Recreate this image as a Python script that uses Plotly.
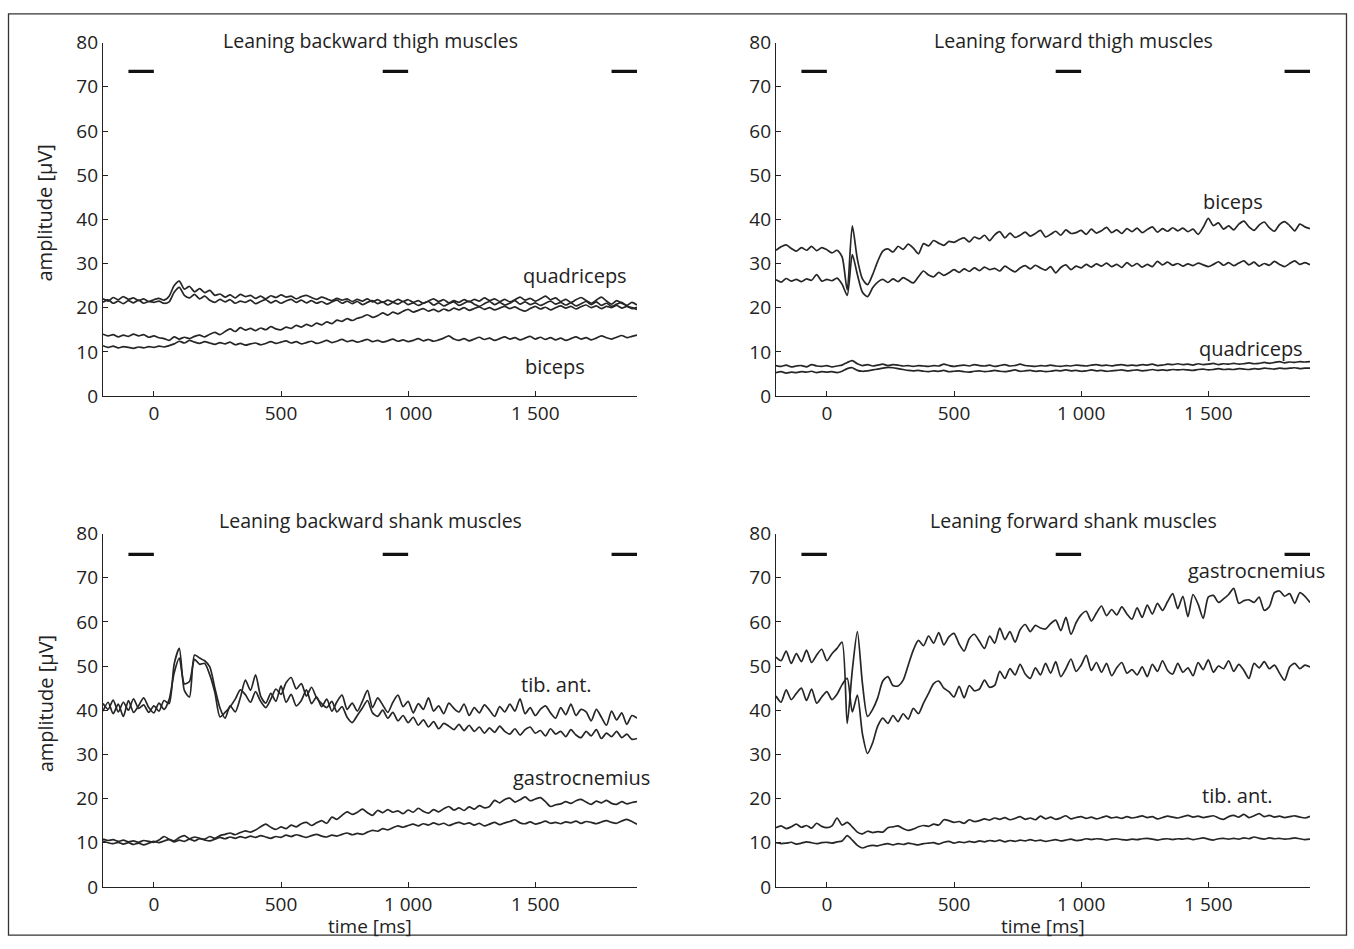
import plotly.graph_objects as go

# Time base: 20 ms steps from -200 ms to 1900 ms
T_START, T_STEP = -200, 20

# ---- Leaning backward, thigh muscles ----
lb_quad_1 = [
    22.0, 21.5, 22.3, 21.8, 22.5, 21.9, 22.2, 21.6, 22.0, 21.4,
    21.8, 22.1, 21.7, 22.6, 25.0, 26.0, 24.2, 24.8, 23.6, 24.3,
    23.4, 23.9, 22.8, 23.1, 22.4, 22.9, 22.2, 23.0, 22.5, 22.8,
    22.1, 22.6, 22.0, 22.7, 22.3, 22.9, 22.4, 22.6, 22.0, 22.5,
    22.8, 22.3, 21.9, 22.4, 22.0, 21.6, 22.1, 21.7, 22.0, 21.4,
    21.9, 21.5, 22.0, 21.3, 21.8, 21.2, 21.7, 21.3, 21.9, 21.4,
    21.8, 21.2, 21.6, 21.0, 21.5, 22.0, 21.4, 21.8, 21.1, 21.6,
    21.2, 21.8, 21.3, 21.9, 21.5, 22.2, 21.6, 22.0, 21.4, 21.9,
    21.3, 21.8, 22.4, 21.7, 22.1, 21.5, 22.0, 22.6, 21.8, 22.2,
    21.4, 21.9, 21.2, 21.8, 22.3, 21.6, 21.0, 21.7, 22.4, 21.5,
    20.8, 21.6, 21.0, 20.5, 21.2, 20.6,
]
lb_quad_2 = [
    21.2, 21.8, 21.0, 21.5, 20.9, 21.6, 21.1, 21.7, 21.0, 21.4,
    21.2, 21.5, 21.0, 21.3, 23.5, 24.6, 22.8, 22.2, 23.0, 22.0,
    22.6, 21.7, 21.2, 21.9, 21.3, 21.8, 21.0, 21.5, 21.2, 21.7,
    20.9, 21.4, 21.8, 21.1, 21.6, 21.0, 21.5, 21.9, 21.2, 21.7,
    21.1, 21.6, 21.0, 21.4, 20.8, 21.3, 21.7, 21.0, 21.5, 20.9,
    21.4, 20.7, 21.2, 21.6, 20.9, 21.3, 20.6, 21.2, 20.8, 21.4,
    20.7, 21.1, 20.5, 21.0, 21.4, 20.6, 21.1, 20.4, 20.9, 21.3,
    20.5, 21.0, 21.5, 20.8, 20.3, 20.9, 21.4, 20.7, 21.2, 20.6,
    21.0, 21.6, 20.8, 21.3, 20.7, 21.1, 20.5, 21.0, 21.5, 20.8,
    21.2, 20.6, 21.1, 20.4, 20.9, 21.4, 20.7, 21.3, 20.5, 21.0,
    20.3, 20.8, 21.2, 20.4, 20.0, 19.6,
]
lb_biceps_1 = [
    14.0, 13.6, 13.9, 13.4, 13.8, 13.5, 14.0, 13.6, 13.9, 13.3,
    13.6, 13.2, 13.0, 12.6, 13.4, 12.9, 13.3, 13.0, 13.5, 13.8,
    13.4, 14.0, 14.4, 13.9, 14.6, 15.2, 14.6, 15.5, 14.9, 15.3,
    14.8, 15.4, 15.0, 15.7, 15.2, 15.0, 15.6, 15.3, 16.0, 15.6,
    16.2, 15.8, 16.5, 16.1, 16.8, 16.4, 17.2, 16.9, 17.5, 17.1,
    17.6, 17.9, 18.4, 17.8, 18.2, 18.8, 18.3, 19.0, 18.6, 19.2,
    19.6, 19.0, 19.4, 19.8, 19.2, 19.6, 19.1, 19.7, 19.3, 19.9,
    19.5, 20.0, 19.4, 19.8, 20.2, 19.6, 20.0, 19.5, 19.9, 20.3,
    19.8, 20.2, 19.6, 19.2, 19.8, 20.3, 19.7, 20.1, 19.5, 20.0,
    20.4, 19.9, 20.3, 19.7, 20.2, 20.6, 20.0, 20.4, 19.8, 20.3,
    20.0, 20.5, 19.9, 20.3, 19.8, 20.1,
]
lb_biceps_2 = [
    11.4, 11.0, 11.3, 10.9, 11.2, 11.0, 10.8, 11.1, 10.9, 11.2,
    11.0, 11.3, 11.1, 11.4, 11.8, 12.4, 12.0, 12.6, 12.2, 11.9,
    12.3, 12.0, 11.7, 12.1, 11.8, 12.2, 11.6, 11.9, 11.5, 11.8,
    12.0, 11.6, 11.9, 12.3, 11.9, 12.2, 12.5, 12.0, 12.3, 11.8,
    12.1, 12.4, 11.9, 12.2, 12.6, 12.1, 12.4, 12.8, 12.3, 12.6,
    12.2, 12.5, 12.8, 12.3, 12.6, 12.2, 12.5, 12.9, 12.4, 12.7,
    12.3, 12.6, 13.0, 12.5, 12.8, 12.4, 12.7, 13.1, 13.6, 12.9,
    12.6, 13.0, 12.5, 12.9, 13.3, 12.8, 13.1, 12.6, 13.0, 13.4,
    12.9, 13.2, 12.7, 13.1, 13.5, 12.9, 13.3, 12.8, 13.2, 12.7,
    13.1, 12.6, 13.0, 13.4, 12.9, 13.2, 12.7, 13.1, 13.6, 13.2,
    12.9, 13.3, 13.7, 13.2, 13.5, 13.8,
]

# ---- Leaning forward, thigh muscles ----
lf_biceps_1 = [
    33.0, 33.8, 34.2, 33.4, 32.8, 33.6, 33.0, 33.9, 32.9, 33.6,
    33.1, 32.4, 33.0, 31.5, 24.0, 38.5, 31.0, 26.5, 25.2, 27.5,
    30.5, 32.8, 33.3, 32.6, 33.9, 33.2, 34.4, 33.5, 32.2, 34.5,
    34.0, 35.2, 34.6, 34.1, 35.0, 34.8, 35.4, 35.8, 34.9, 36.0,
    35.6, 36.4, 35.2, 36.5, 37.2, 35.8, 36.9, 35.9, 36.4, 37.1,
    36.2, 36.8, 37.5, 36.0, 36.6, 37.3, 36.4, 37.6, 36.8, 37.0,
    37.5, 36.6, 37.8, 36.9, 37.4, 38.2, 37.0, 37.6, 36.8, 37.9,
    37.2, 38.0, 37.0, 37.7, 38.3, 37.1, 37.9, 37.3, 38.1, 37.4,
    38.0, 37.2, 37.8, 36.6, 38.2, 40.2, 38.6, 39.2, 37.8, 38.5,
    37.6, 38.9, 39.6, 38.3, 37.5, 38.7, 39.4, 38.1, 37.3, 38.8,
    39.5, 38.6, 37.4, 38.9, 38.3, 37.9,
]
lf_biceps_2 = [
    26.3, 25.8, 26.6, 26.0, 26.4, 25.9, 26.5, 26.2, 27.5, 26.0,
    26.4, 26.1, 26.7, 25.3, 22.8, 32.0, 27.5, 23.5, 22.5, 24.5,
    25.8, 26.4, 25.7, 26.5, 25.9, 26.8, 26.2, 25.6, 27.0, 28.3,
    27.4, 27.0, 28.0, 27.3, 27.9, 28.6, 28.0, 28.8, 28.2, 29.0,
    28.4, 29.2, 28.6, 28.9, 28.3, 29.4, 28.7, 28.1, 29.0, 29.5,
    28.8, 29.6, 29.0, 28.5, 29.3, 27.9, 29.1, 29.7, 28.6, 29.4,
    29.0, 29.8, 29.2, 29.9, 29.4, 30.1, 29.3, 29.8, 29.1, 30.2,
    29.4, 30.0, 29.2, 29.8, 29.3, 30.5, 29.7, 30.3, 29.6, 30.0,
    29.4, 29.9, 29.5, 30.1, 29.7, 29.3, 29.8, 30.4, 29.6, 30.2,
    29.5, 30.1, 30.6, 29.7, 30.3, 29.4, 30.0, 29.6, 30.5, 29.8,
    29.3, 30.0, 30.6, 29.8, 30.2, 29.7,
]
lf_quad_1 = [
    6.9, 6.7, 7.0, 6.6, 6.8, 6.9, 6.6, 7.1, 6.8, 6.7,
    6.9, 6.6, 6.8, 7.0, 7.6, 8.0, 7.3, 6.9, 7.1, 6.8,
    7.0, 7.2, 6.9, 7.1, 7.0, 6.8, 6.9, 6.7, 6.9, 6.8,
    6.7, 6.9, 6.8, 7.2, 6.9, 6.7, 6.9, 7.0, 6.8, 7.1,
    6.9, 6.8, 7.0, 6.7, 6.9, 7.1, 6.8, 6.9, 7.2, 6.9,
    6.8, 6.7, 6.9, 6.8, 7.0, 6.8, 6.7, 6.9, 6.8, 7.0,
    6.9, 6.8, 7.0, 7.1, 6.9, 7.0, 6.8, 7.0, 7.1, 6.9,
    7.0, 6.9, 7.1, 7.0, 7.2, 6.9, 7.0, 7.2, 7.1, 7.3,
    7.1, 7.2, 7.0, 7.3, 7.1, 7.2, 7.4, 7.1, 7.3, 7.2,
    7.4, 7.2, 7.3, 7.5, 7.3, 7.4, 7.6, 7.4, 7.6, 7.8,
    7.5, 7.7, 7.6, 7.8, 7.7, 7.8,
]
lf_quad_2 = [
    5.3, 5.5, 5.2, 5.4, 5.3, 5.5, 5.4, 5.6, 5.3, 5.5,
    5.4, 5.5, 5.3, 5.6, 6.2, 6.4, 5.8, 5.6, 5.7, 5.9,
    6.1, 6.3, 6.5, 6.4, 6.2, 6.0, 5.8, 5.7, 5.8, 5.6,
    5.5, 5.7, 5.6, 5.8, 5.5, 5.6, 5.7, 5.5, 5.4, 5.6,
    5.7, 5.5, 5.6, 5.8, 5.6, 5.5, 5.7, 5.9, 5.6, 5.7,
    5.8, 5.6, 5.7, 5.5, 5.6, 5.8, 5.7, 5.9, 5.7, 5.8,
    5.6, 5.7, 5.9, 5.7, 5.8, 5.6, 5.7, 5.8, 5.9, 5.7,
    5.8, 5.9, 5.7, 5.8, 6.0, 5.8, 5.9, 5.8, 6.0, 5.9,
    6.0, 5.9, 5.8, 6.0, 6.1, 5.9, 6.0, 6.2, 6.0, 6.1,
    6.0, 6.2, 6.1, 6.0, 6.2, 6.1, 6.3, 6.2, 6.1, 6.3,
    6.2, 6.3, 6.4, 6.2, 6.3, 6.3,
]

# ---- Leaning backward, shank muscles ----
lb_tib_1 = [
    41.5, 40.2, 42.3, 39.6, 41.8, 40.0, 42.6, 40.4, 41.2, 39.5,
    41.0, 39.8, 42.2, 41.5, 50.5, 54.0, 44.5, 43.0, 52.5, 51.8,
    51.2, 49.8, 45.0, 40.5, 38.2, 41.0, 39.6, 42.8, 46.8, 44.5,
    48.0, 43.2, 41.6, 43.8, 42.0, 45.5, 41.8, 43.6, 41.0, 42.2,
    44.6, 41.5, 43.0, 40.8, 42.5, 39.8, 41.9, 43.4, 40.2, 41.6,
    39.8, 42.0, 44.5, 40.6, 42.8, 41.2, 39.5, 41.8, 43.4, 40.8,
    42.0, 39.4, 41.5, 40.2, 42.8, 39.8, 41.0, 39.2, 41.6, 40.4,
    39.6, 41.4, 38.8, 40.6, 39.4, 41.2, 40.0, 38.6, 40.8, 39.6,
    41.4, 39.8, 42.6, 39.2, 40.6, 38.8, 40.2, 41.0, 39.4, 38.2,
    40.6, 39.0, 41.4, 38.8, 40.2, 39.6, 37.6, 40.2, 38.4, 36.6,
    39.8, 37.8, 39.4, 36.8, 38.8, 38.2,
]
lb_tib_2 = [
    39.8, 41.8, 39.2, 41.4, 38.6, 42.2, 39.5, 41.0, 42.8, 40.6,
    39.4, 41.6, 40.2, 42.4, 48.5, 51.8, 46.0, 46.5, 51.5, 50.4,
    50.6, 48.0, 44.0, 38.5, 39.5, 40.8, 42.5, 44.6, 43.5, 41.8,
    44.2, 42.0, 40.6, 42.5, 44.8, 43.6, 46.2, 47.4, 44.8, 46.0,
    43.2, 45.2, 42.8, 41.5, 40.6, 42.0, 39.6, 40.8, 38.4, 37.2,
    38.8, 40.5, 42.2, 39.4, 38.6, 40.0, 38.2, 39.5, 37.6, 38.8,
    37.2, 38.4, 36.6, 37.8, 36.2, 37.4, 35.8, 37.0, 36.4, 35.6,
    36.8, 35.4, 36.6, 35.2, 36.2, 34.8, 36.0, 35.0, 36.4, 35.2,
    34.6, 35.8, 34.4, 35.6, 36.2, 34.8, 35.4, 34.2, 35.8, 34.6,
    35.2, 34.0, 35.6, 34.4, 33.8, 35.2, 34.2, 35.6, 33.6, 34.8,
    34.0, 35.2, 33.8, 34.6, 33.4, 33.6,
]
lb_gas_1 = [
    10.8, 10.5, 10.7, 10.3, 10.6, 10.2, 10.4, 10.1, 10.5, 10.3,
    10.1, 10.6, 11.4, 10.8, 10.4, 11.2, 11.6, 10.9, 11.3, 11.0,
    10.8, 11.4, 11.0, 11.6, 11.9, 12.2, 11.8, 12.3, 12.7, 12.4,
    12.9, 13.6, 14.2, 13.5, 13.0, 13.6, 13.2, 14.0, 13.6, 14.3,
    14.6, 13.9, 14.5, 15.0, 14.4, 15.8, 15.3, 16.2, 17.0, 16.4,
    16.9, 17.6, 16.8, 16.2, 17.3, 16.8, 17.5, 16.9, 17.2, 16.6,
    17.4, 16.9, 17.8, 17.1, 16.7, 17.5, 17.0, 17.7, 18.2, 17.4,
    17.9, 17.3, 18.1, 17.6, 18.4, 17.9, 18.2, 19.6, 19.0, 19.8,
    20.1, 19.2, 19.7, 20.4, 19.5, 19.9, 20.2, 19.3, 18.2, 18.6,
    18.8, 19.3, 18.9, 19.5, 19.8, 19.2, 18.7, 19.4, 19.0, 19.6,
    18.9, 18.7, 19.3, 18.8, 19.1, 19.3,
]
lb_gas_2 = [
    10.4, 10.0, 9.8, 10.1, 9.7, 10.0, 9.6, 9.9, 9.5, 9.9,
    10.3, 10.0, 10.4, 10.7, 10.2, 10.6, 10.3, 10.8, 10.4, 10.9,
    10.6, 10.4, 10.8, 11.2, 10.9, 11.3, 11.0, 11.4, 11.1, 11.5,
    11.2, 11.6, 11.3, 11.0, 11.4, 11.2, 11.7, 11.4, 11.8, 11.5,
    11.2, 11.6, 11.9, 11.5, 11.3, 11.7, 11.5, 11.9, 12.2, 11.8,
    12.1, 11.9, 12.4, 12.8, 12.6, 13.2, 12.9, 13.4, 13.8, 13.5,
    13.9, 14.2, 13.8, 14.3, 14.0, 14.5, 14.1, 14.4, 13.9, 14.3,
    14.6, 14.2, 14.5, 14.0, 14.4, 13.8, 14.2, 14.6, 14.1, 14.5,
    14.8, 15.2, 14.5, 14.3, 14.7, 14.2, 14.5, 14.9, 14.4, 14.6,
    14.3, 14.7, 14.5, 14.9, 14.4, 14.8, 14.6, 14.3, 14.7, 15.0,
    14.6, 14.4, 14.9, 15.3, 14.8, 14.2,
]

# ---- Leaning forward, shank muscles ----
lf_gas_1 = [
    52.0, 51.2, 53.4, 50.6, 52.8, 51.0, 53.6, 50.8, 52.5, 53.8,
    51.2, 52.8, 54.0, 55.4, 37.0, 49.0, 57.8, 46.0, 38.6, 40.2,
    42.8, 46.6, 47.6, 45.6, 45.5, 46.8, 50.2, 53.6, 55.8, 54.6,
    56.8, 55.2, 57.6, 54.8, 56.6, 57.4, 55.0, 53.4, 56.2, 57.2,
    55.6, 54.0, 56.8, 55.2, 58.6, 56.0, 57.8, 55.4, 58.2, 59.4,
    57.8, 59.2, 58.6, 58.4, 59.6, 60.4, 58.0, 61.0, 57.2, 59.8,
    61.6, 62.4, 60.2, 62.0, 63.6, 61.4, 62.8, 61.6, 63.4, 61.8,
    60.6, 63.2, 61.0, 63.8, 61.8, 64.2, 62.6, 64.6, 66.4, 63.0,
    65.8, 61.2, 66.2, 64.0, 60.8, 65.6, 66.0, 64.4, 65.2, 66.2,
    67.6, 64.2, 64.8, 65.0, 64.4, 65.6, 62.6, 63.4, 66.6, 67.0,
    65.8, 66.4, 64.2, 66.6, 65.8, 64.4,
]
lf_gas_2 = [
    43.2, 41.8, 44.6, 42.4, 43.8, 45.0, 42.2, 44.8, 41.6, 43.0,
    44.2, 42.4, 43.6, 45.8, 47.2, 39.6, 43.4, 34.6, 30.2, 32.6,
    36.4, 38.2, 37.0, 38.8, 37.4, 39.2, 38.0, 40.4, 39.2, 41.6,
    43.8, 46.0, 46.6, 45.0, 44.2, 43.0, 45.4, 42.8, 45.6, 44.4,
    44.8, 46.8, 45.2, 45.6, 48.8, 47.2, 49.4, 48.0, 50.4, 48.2,
    47.2, 49.6, 48.0, 50.6, 48.4, 51.0, 47.6, 49.4, 51.6, 48.8,
    50.2, 52.4, 49.0, 50.8, 48.6, 50.6, 47.8, 49.6, 50.8, 48.4,
    49.2, 48.0, 49.8, 47.6, 50.4, 48.8, 51.2, 49.0, 48.2, 50.6,
    48.6, 49.6, 47.8, 50.8, 49.2, 51.4, 48.6, 50.0, 49.4, 51.2,
    48.8, 50.4, 49.0, 47.2, 50.6, 49.6, 51.0, 49.4, 50.2, 48.4,
    46.8, 49.8, 50.6, 49.4, 50.2, 49.8,
]
lf_tib_1 = [
    13.4, 13.8, 13.2, 13.6, 14.2, 13.5, 13.9, 13.3, 14.4, 13.7,
    13.4, 13.8, 15.6, 14.0, 14.6, 13.6, 12.4, 12.0, 12.6, 12.3,
    12.5, 12.4, 13.4, 13.6, 13.8, 13.2, 12.8, 13.1, 13.6, 13.9,
    13.7, 14.2, 14.0, 15.2, 15.0, 14.6, 14.8, 14.4, 15.2, 14.8,
    15.0, 15.4, 15.1, 15.6, 15.3, 15.7, 15.2, 15.5, 15.9, 15.3,
    15.6, 15.2, 16.0, 15.4, 15.8, 15.3, 15.6, 16.1, 15.4, 15.7,
    15.9, 15.5, 15.8, 15.4, 15.7, 16.0, 15.6, 15.8, 15.5, 15.9,
    15.6, 15.8, 16.1, 15.7, 15.9, 15.4, 15.7, 16.0, 15.8, 15.6,
    15.9, 16.2, 15.8, 16.0, 15.7, 15.9, 16.1, 15.6, 15.3, 15.9,
    16.2, 15.8, 16.4, 15.7, 16.1, 16.6, 15.9, 16.2, 15.8, 16.0,
    15.7, 15.9, 16.1, 15.8, 15.6, 16.0,
]
lf_tib_2 = [
    10.0, 9.8, 9.9, 10.1, 9.7, 9.9, 10.2, 10.0, 9.8, 10.0,
    10.1, 9.9, 10.2, 10.4, 11.6, 10.6, 9.4, 8.8, 9.2, 9.4,
    9.3, 9.6, 9.8, 9.5, 9.8, 9.6, 9.9, 9.7, 9.5, 9.8,
    9.9, 10.0, 9.7, 10.1, 10.3, 9.9, 10.2, 10.0, 10.3, 10.1,
    10.4, 10.2, 10.5, 10.3, 10.6, 10.2, 10.5, 10.3, 10.6, 10.4,
    10.7, 10.4, 10.6, 10.3, 10.5, 10.7, 10.4, 10.6, 10.8, 10.5,
    10.6, 10.9, 10.7, 10.9, 10.8, 10.6, 10.8, 10.9, 10.7, 10.6,
    10.8, 10.7, 10.9, 11.0, 10.8, 10.6, 10.8, 10.9, 10.7, 10.9,
    10.8, 11.0, 10.7, 10.9, 11.1, 10.8, 10.6, 10.9, 11.0, 10.8,
    11.0, 10.8, 11.1, 10.9, 11.3, 11.0, 10.8, 11.1, 10.9, 11.0,
    10.8, 10.9, 11.1, 10.9, 10.7, 10.8,
]

# Averaging windows marked above the traces (ms) and their level (µV) per row
WINDOWS = [(-100, 0), (900, 1000), (1800, 1900)]
WINDOW_LEVEL = [73.5, 75.3]

X_TICKS = [0, 500, 1000, 1500]
X_TICK_TEXT = ["0", "500", "1 000", "1 500"]
Y_TICKS = [0, 10, 20, 30, 40, 50, 60, 70, 80]

PANELS = [
    dict(title="Leaning backward thigh muscles", title_x=850,
         series=[lb_quad_1, lb_quad_2, lb_biceps_1, lb_biceps_2],
         labels=[("quadriceps", 1657, 27.3), ("biceps", 1578, 6.6)]),
    dict(title="Leaning forward thigh muscles", title_x=968,
         series=[lf_biceps_1, lf_biceps_2, lf_quad_1, lf_quad_2],
         labels=[("biceps", 1598, 44.1), ("quadriceps", 1669, 10.7)]),
    dict(title="Leaning backward shank muscles", title_x=850,
         series=[lb_tib_1, lb_tib_2, lb_gas_1, lb_gas_2],
         labels=[("tib. ant.", 1582, 45.9), ("gastrocnemius", 1680, 24.8)]),
    dict(title="Leaning forward shank muscles", title_x=968,
         series=[lf_gas_1, lf_gas_2, lf_tib_1, lf_tib_2],
         labels=[("gastrocnemius", 1688, 71.6), ("tib. ant.", 1613, 20.7)]),
]

W, H = 1354, 949
FONT = "Open Sans"
INK = "#222222"
LINE = "#262626"

# Panel boxes in pixels (x from left, y from top)
X_DOMAINS = [[103 / W, 637 / W], [776 / W, 1310 / W]]
Y_DOMAINS = [[1 - 393.8 / H, 1 - 30.5 / H], [1 - 898.5 / H, 1 - 535.2 / H]]
TITLE_Y = [1 - 28.5 / H, 1 - 521.5 / H]

fig = go.Figure()
annotations = []

for k, panel in enumerate(PANELS):
    row, col = divmod(k, 2)
    suffix = "" if k == 0 else str(k + 1)
    xa, ya = "x" + suffix, "y" + suffix

    for values in panel["series"]:
        assert len(values) == 106
        times = [T_START + T_STEP * i for i in range(len(values))]
        fig.add_trace(go.Scatter(
            x=times, y=values, xaxis=xa, yaxis=ya, mode="lines",
            line=dict(color=LINE, width=1.7, shape="spline", smoothing=0.7),
            showlegend=False, hoverinfo="skip"))

    for t0, t1 in WINDOWS:
        level = WINDOW_LEVEL[row]
        fig.add_trace(go.Scatter(
            x=[t0, t1], y=[level, level], xaxis=xa, yaxis=ya,
            mode="lines", line=dict(color="#111111", width=3.2),
            showlegend=False, hoverinfo="skip"))

    annotations.append(dict(
        text=panel["title"], x=panel["title_x"], y=TITLE_Y[row],
        xref=xa, yref="paper", xanchor="center", yanchor="middle",
        showarrow=False, font=dict(family=FONT, size=19.5, color=INK)))
    for text, tx, ty in panel["labels"]:
        annotations.append(dict(
            text=text, x=tx, y=ty, xref=xa, yref=ya, xanchor="center",
            yanchor="middle", showarrow=False,
            font=dict(family=FONT, size=20, color=INK)))

    axis_common = dict(
        showgrid=False, zeroline=False, showline=True, linecolor=INK,
        linewidth=1.3, ticks="inside", ticklen=5, tickwidth=1.2,
        tickcolor=INK, tickfont=dict(family=FONT, size=19, color=INK))
    fig.update_layout({
        ("xaxis" + suffix): dict(
            axis_common, domain=X_DOMAINS[col], range=[-200, 1900],
            tickvals=X_TICKS, ticktext=X_TICK_TEXT, anchor=ya),
        ("yaxis" + suffix): dict(
            axis_common, domain=Y_DOMAINS[row], range=[0, 80],
            tickvals=Y_TICKS, anchor=xa),
    })

# Axis titles
for row in range(2):
    d = Y_DOMAINS[row]
    annotations.append(dict(
        text="amplitude [µV]", x=45 / W, y=(d[0] + d[1]) / 2 + 6 / H,
        xref="paper", yref="paper", textangle=-90, showarrow=False,
        xanchor="center", yanchor="middle",
        font=dict(family=FONT, size=20, color=INK)))
for col in range(2):
    d = X_DOMAINS[col]
    annotations.append(dict(
        text="time [ms]", x=(d[0] + d[1]) / 2, y=1 - 938.5 / H,
        xref="paper", yref="paper", showarrow=False,
        xanchor="center", yanchor="middle", borderpad=0,
        font=dict(family=FONT, size=19, color=INK)))

fig.update_layout(
    width=W, height=H, margin=dict(l=0, r=0, t=0, b=0),
    paper_bgcolor="white", plot_bgcolor="white",
    annotations=annotations,
    shapes=[dict(type="rect", xref="paper", yref="paper",
                 x0=8.5 / W, x1=1346.5 / W, y0=0.8 / H, y1=1 - 0.8 / H,
                 line=dict(color="#333333", width=1.3))],
)

fig.write_html("out.html")
